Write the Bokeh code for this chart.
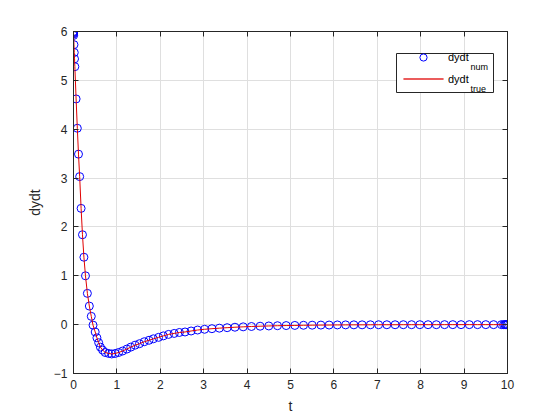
from bokeh.plotting import figure
from bokeh.models import (Range1d, LinearAxis, Legend, LegendItem, Label, BoxAnnotation,
                          PolyAnnotation, FixedTicker)
from bokeh.embed import file_html
from bokeh.resources import INLINE

# ---- data ----
t = [0.0, 0.0005, 0.001, 0.002, 0.003, 0.011, 0.018, 0.024, 0.031,
     0.06, 0.088, 0.115, 0.142, 0.175, 0.207, 0.24, 0.276, 0.32, 0.365, 0.41, 0.45,
     0.50, 0.54, 0.58, 0.62, 0.67, 0.73, 0.81, 0.88, 0.96, 1.04, 1.13, 1.23, 1.32,
     1.42, 1.52, 1.63, 1.74, 1.84, 1.96, 2.07, 2.19, 2.32, 2.44, 2.57, 2.71, 2.86,
     3.02, 3.19, 3.36, 3.54, 3.72, 3.91, 4.10, 4.30, 4.50, 4.70, 4.90, 5.10, 5.30,
     5.50, 5.70, 5.89, 6.08, 6.27, 6.46, 6.65, 6.84, 7.03, 7.22, 7.41, 7.60, 7.79,
     7.98, 8.17, 8.36, 8.55, 8.74, 8.93, 9.12, 9.31, 9.50, 9.68, 9.86, 9.91, 9.94,
     9.96, 9.98, 10.0]
dydt_num = [6.0, 5.99, 5.97, 5.95, 5.92, 5.73, 5.57, 5.44, 5.28,
            4.62, 4.02, 3.49, 3.03, 2.38, 1.84, 1.38, 1.00, 0.64, 0.38, 0.17, -0.01,
            -0.15, -0.27, -0.37, -0.46, -0.52, -0.57, -0.59, -0.60, -0.59, -0.57, -0.54,
            -0.50, -0.46, -0.42, -0.39, -0.35, -0.32, -0.29, -0.26, -0.23, -0.20, -0.18,
            -0.16, -0.15, -0.13, -0.11,
            -0.095, -0.083, -0.072, -0.062, -0.053, -0.045, -0.038, -0.032, -0.027,
            -0.022, -0.019, -0.016, -0.013, -0.011, -0.009, -0.008, -0.006, -0.005,
            -0.004, -0.004, -0.003, -0.002, -0.002, -0.002, -0.001, -0.001, -0.001,
            -0.001, -0.001, 0.0, 0.0, 0.0, 0.0, 0.0, 0.0, 0.0, 0.0, 0.0, 0.0,
            0.0, 0.0, 0.0]
dydt_true = dydt_num
x_ticks = [0, 1, 2, 3, 4, 5, 6, 7, 8, 9, 10]
y_ticks = [-1, 0, 1, 2, 3, 4, 5, 6]

FONT = "Liberation Sans"
INK = "#262626"
GRID = "#dfdfdf"
RED = "#e00000"

p = figure(width=560, height=420, output_backend="svg", toolbar_location=None,
           x_range=Range1d(0, 10), y_range=Range1d(-1, 6),
           min_border_left=73, min_border_right=53, min_border_top=31, min_border_bottom=47,
           x_axis_label="t", y_axis_label="dydt")
p.background_fill_color = "white"
p.border_fill_color = "white"
p.outline_line_color = INK
p.outline_line_width = 1

p.xaxis.ticker = FixedTicker(ticks=x_ticks)
p.yaxis.ticker = FixedTicker(ticks=y_ticks)
p.xgrid.ticker = FixedTicker(ticks=x_ticks)
p.ygrid.ticker = FixedTicker(ticks=y_ticks)
p.grid.grid_line_color = GRID
p.grid.grid_line_width = 1

for ax in (p.xaxis[0], p.yaxis[0]):
    ax.major_tick_in = 5
    ax.major_tick_out = 0
    ax.minor_tick_in = 0
    ax.minor_tick_out = 0
    ax.axis_line_color = INK
    ax.major_tick_line_color = INK
    ax.major_label_text_font = FONT
    ax.major_label_text_font_size = "12px"
    ax.major_label_text_color = INK
    ax.axis_label_text_font = FONT
    ax.axis_label_text_font_size = "14px"
    ax.axis_label_text_font_style = "normal"
    ax.axis_label_text_color = INK
p.xaxis.major_label_standoff = 6
p.yaxis.major_label_standoff = 6
p.xaxis.axis_label_standoff = 6
p.yaxis.axis_label_standoff = 8

# mirrored tick marks on top and right (minor ticks only, so no labels)
top_ax = LinearAxis(ticker=FixedTicker(ticks=[], minor_ticks=x_ticks),
                    major_tick_in=0, major_tick_out=0, minor_tick_in=5, minor_tick_out=0,
                    axis_line_color=INK, minor_tick_line_color=INK)
right_ax = LinearAxis(ticker=FixedTicker(ticks=[], minor_ticks=y_ticks),
                      major_tick_in=0, major_tick_out=0, minor_tick_in=5, minor_tick_out=0,
                      axis_line_color=INK, minor_tick_line_color=INK)
p.add_layout(top_ax, "above")
p.add_layout(right_ax, "right")

circ = p.scatter(t, dydt_num, marker="circle", size=8, fill_color=None,
                 line_color="#0000ff", line_width=1)
ln = p.line(t, dydt_true, line_color=RED, line_width=1)
# proxy for the line's legend entry (sample drawn below as an annotation)
proxy = p.scatter([], [], marker="circle", size=1, line_alpha=0, fill_alpha=0)

# legend frame
box = BoxAnnotation(left=323, right=420, bottom=281, top=320,
                    left_units="screen", right_units="screen",
                    bottom_units="screen", top_units="screen",
                    fill_color="white", fill_alpha=1.0, line_color=INK, line_width=1,
                    line_alpha=1.0, level="overlay")
p.add_layout(box)

legend = Legend(items=[LegendItem(label="dydt", renderers=[circ]),
                       LegendItem(label="dydt", renderers=[proxy])],
                location=(330, 285), padding=0, spacing=4, margin=0,
                glyph_width=40, glyph_height=18, label_height=18, label_standoff=5,
                border_line_alpha=0, background_fill_alpha=0, level="overlay",
                label_text_font=FONT, label_text_font_size="11px", label_text_color="black")
p.add_layout(legend)

legend_line = PolyAnnotation(xs=[330, 370, 370, 330], ys=[294.5, 294.5, 294.5, 294.5],
                             xs_units="screen", ys_units="screen",
                             line_color=RED, line_width=1, line_alpha=0.8,
                             fill_alpha=0, level="overlay")
p.add_layout(legend_line)

sub1 = Label(x=397, y=307, x_units="screen", y_units="screen", text="num",
             text_font=FONT, text_font_size="9px", text_color="black",
             text_baseline="alphabetic", level="overlay")
sub2 = Label(x=397, y=285, x_units="screen", y_units="screen", text="true",
             text_font=FONT, text_font_size="9px", text_color="black",
             text_baseline="alphabetic", level="overlay")
p.add_layout(sub1)
p.add_layout(sub2)

open("out.html", "w").write(file_html(p, INLINE))
